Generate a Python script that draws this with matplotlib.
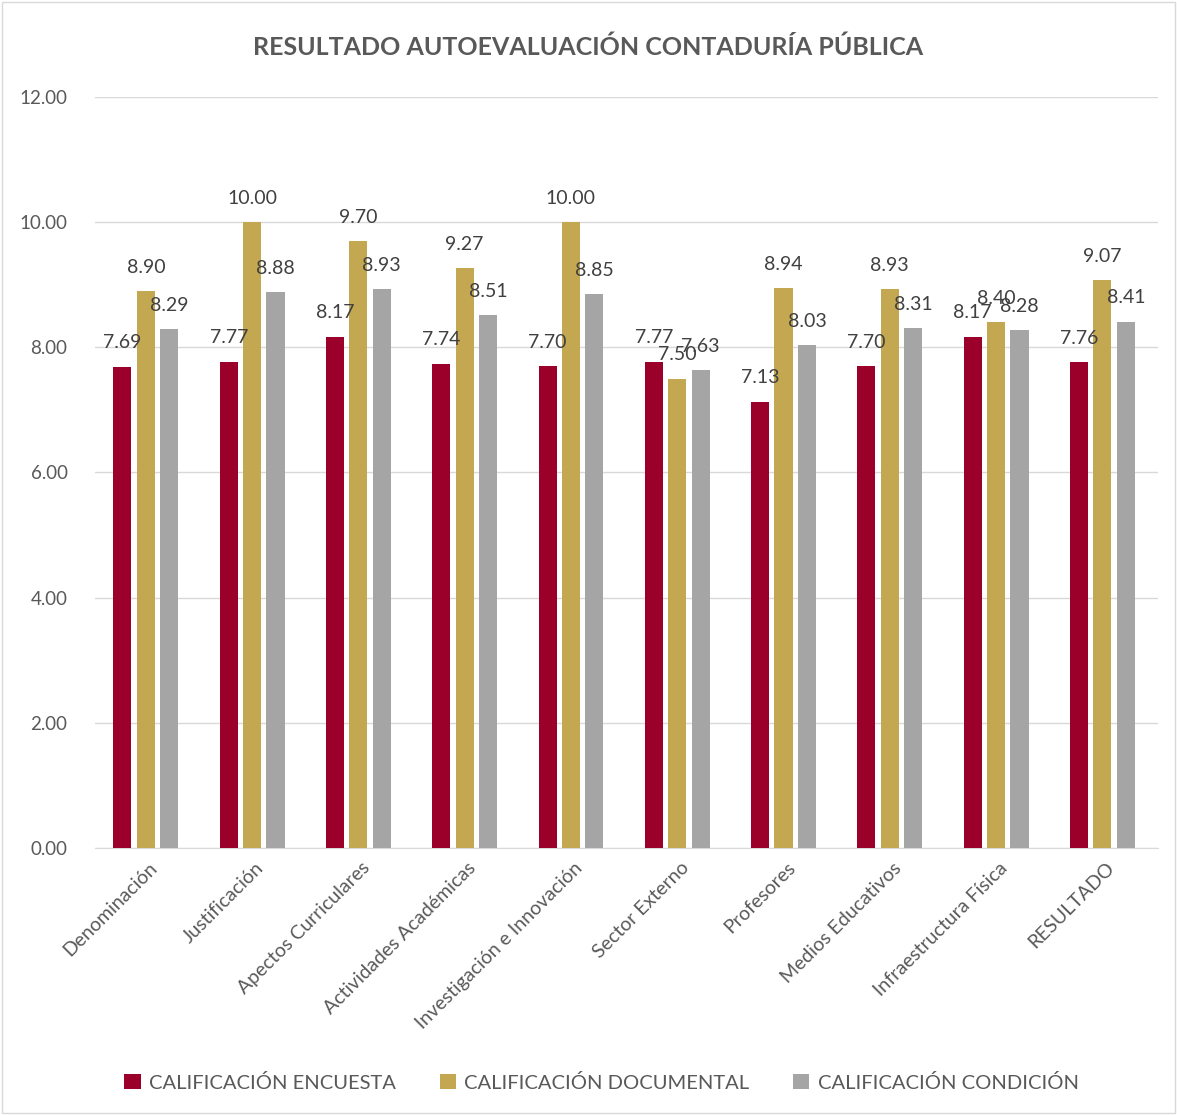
import numpy as np
import matplotlib.pyplot as plt
from matplotlib.patches import Rectangle

plt.rcParams['font.family'] = ['Lato', 'DejaVu Sans']

categorias = ['Denominación', 'Justificación', 'Apectos Curriculares', 'Actividades Académicas',
              'Investigación e Innovación', 'Sector Externo', 'Profesores', 'Medios Educativos',
              'Infraestructura Física', 'RESULTADO']
encuesta = [7.69, 7.77, 8.17, 7.74, 7.70, 7.77, 7.13, 7.70, 8.17, 7.76]
documental = [8.90, 10.00, 9.70, 9.27, 10.00, 7.50, 8.94, 8.93, 8.40, 9.07]
condicion = [8.29, 8.88, 8.93, 8.51, 8.85, 7.63, 8.03, 8.31, 8.28, 8.41]

series = [('CALIFICACIÓN ENCUESTA', encuesta, '#9a0029'),
          ('CALIFICACIÓN DOCUMENTAL', documental, '#c4a851'),
          ('CALIFICACIÓN CONDICIÓN', condicion, '#a5a5a5')]

fig = plt.figure(figsize=(11.77, 11.15), dpi=100)
ax = fig.add_axes([0.081, 0.2395, 0.903, 0.6735])
fig.patches.append(Rectangle((0.002, 0.002), 0.996, 0.996, transform=fig.transFigure,
                             fill=False, edgecolor='#d9d9d9', linewidth=1))

x = np.arange(len(categorias))
width = 0.17
offsets = [-0.245, -0.025, 0.195]
for (nombre, vals, color), off in zip(series, offsets):
    bars = ax.bar(x + off, vals, width, color=color, label=nombre, zorder=3)
    for b, v in zip(bars, vals):
        ax.annotate(f'{v:.2f}', (b.get_x() + b.get_width() / 2, v),
                    xytext=(0, 11), textcoords='offset points', zorder=6,
                    ha='center', va='bottom', fontsize=14, color='#404040')

ax.set_xlim(-0.5, len(categorias) - 0.5)
ax.set_ylim(0, 12)
ax.set_yticks(np.arange(0, 12.1, 2))
ax.set_yticklabels([f'{t:.2f}' for t in np.arange(0, 12.1, 2)], fontsize=13.5, color='#595959')
ax.set_xticks(x)
ax.set_xticklabels(categorias, rotation=45, ha='right', rotation_mode='anchor',
                   fontsize=14, color='#595959')
ax.tick_params(axis='x', length=0, pad=8)
ax.tick_params(axis='y', length=0, pad=20)
ax.grid(axis='y', color='#d9d9d9', linewidth=1, zorder=0)
for s in ['top', 'right', 'left']:
    ax.spines[s].set_visible(False)
ax.spines['bottom'].set_color('#d9d9d9')

fig.text(0.5, 0.958, 'RESULTADO AUTOEVALUACIÓN CONTADURÍA PÚBLICA', ha='center', va='center',
         fontsize=18, fontweight='bold', color='#595959')

fig.legend(loc='center', bbox_to_anchor=(0.511, 0.029), ncol=3, frameon=False,
           fontsize=14.5, labelcolor='#595959', handlelength=0.8, handleheight=0.8,
           handletextpad=0.4, columnspacing=2.2)

fig.savefig('out.png', dpi=100)
